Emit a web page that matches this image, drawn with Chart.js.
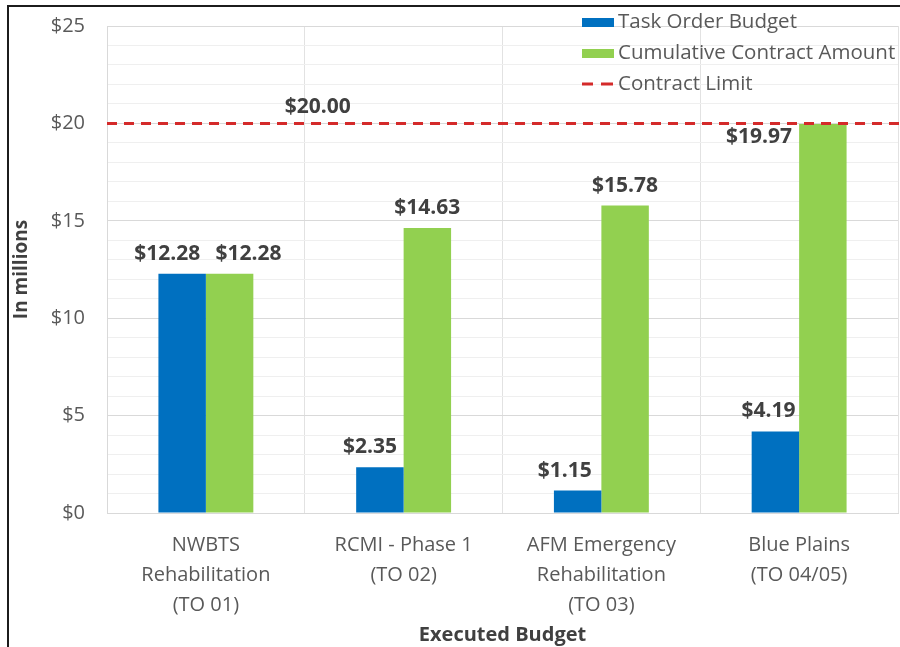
<!DOCTYPE html>
<html>
<head>
<meta charset="utf-8">
<script src="https://cdn.jsdelivr.net/npm/chart.js@4.4.1/dist/chart.umd.min.js"></script>
<style>
  html, body { margin: 0; padding: 0; background: #fff; }
  #wrap { position: relative; width: 900px; height: 647px; overflow: hidden; }
  #frame { position: absolute; left: 7px; top: 5px; width: 1000px; height: 800px;
           border-left: 2px solid #1c1c1c; border-top: 2px solid #1c1c1c; z-index: 0; }
  canvas { position: absolute; left: 0; top: 0; z-index: 1; }
</style>
</head>
<body>
<div id="wrap">
  <div id="frame"></div>
  <canvas id="c" width="900" height="647"></canvas>
</div>
<script>
// ---- data ----
const categories = [
  ['NWBTS', 'Rehabilitation', '(TO 01)'],
  ['RCMI - Phase 1', '(TO 02)'],
  ['AFM Emergency', 'Rehabilitation', '(TO 03)'],
  ['Blue Plains', '(TO 04/05)']
];
const taskOrderBudget = [12.28, 2.35, 1.15, 4.19];
const cumulativeContract = [12.28, 14.63, 15.78, 19.97];
const contractLimit = 20;
const seriesNames = ['Task Order Budget', 'Cumulative Contract Amount', 'Contract Limit'];
const yMin = 0, yMax = 25, yMajorStep = 5;

const FONT = "'Open Sans', 'Liberation Sans', sans-serif";
const BLUE = '#0070C0', GREEN = '#92D050', RED = '#D42A2A';
const LABEL_COLOR = '#404040', TICK_COLOR = '#595959';

const fmt = v => '$' + v.toFixed(2);

// value labels plugin
const valueLabels = {
  id: 'valueLabels',
  afterDatasetsDraw(chart, args, opts) {
    const ctx = chart.ctx;
    ctx.save();
    ctx.font = 'bold 21px ' + FONT;
    ctx.fillStyle = LABEL_COLOR;
    ctx.textBaseline = 'middle';
    chart.data.datasets.forEach((ds, di) => {
      const meta = chart.getDatasetMeta(di);
      meta.data.forEach((bar, i) => {
        const v = ds.data[i];
        const side = opts.side[di][i];
        if (side === 'left') {
          ctx.textAlign = 'right';
          ctx.fillText(fmt(v), bar.x - bar.width / 2 - 7, bar.y + 13);
        } else {
          ctx.textAlign = 'center';
          ctx.fillText(fmt(v), bar.x + opts.dx[di][i], bar.y - 20);
        }
      });
    });
    ctx.restore();
  }
};

// contract limit line + label
const limitLine = {
  id: 'limitLine',
  afterDatasetsDraw(chart) {
    const ctx = chart.ctx, ys = chart.scales.y, xs = chart.scales.x;
    const y = ys.getPixelForValue(contractLimit);
    ctx.save();
    ctx.strokeStyle = RED;
    ctx.lineWidth = 3;
    ctx.setLineDash([10, 7]);
    ctx.beginPath();
    ctx.moveTo(chart.chartArea.left, y);
    ctx.lineTo(chart.width, y);
    ctx.stroke();
    ctx.setLineDash([]);
    ctx.font = 'bold 21px ' + FONT;
    ctx.fillStyle = LABEL_COLOR;
    ctx.textAlign = 'center';
    ctx.textBaseline = 'middle';
    const xl = (xs.getPixelForValue(0) + xs.getPixelForValue(1)) / 2 + 13;
    ctx.fillText(fmt(contractLimit), xl, y - 16);
    ctx.restore();
  }
};

// in-plot legend
const plotLegend = {
  id: 'plotLegend',
  afterDraw(chart) {
    const ctx = chart.ctx;
    const x0 = 582, tx = 618;
    const rows = [28, 59, 90];
    ctx.save();
    ctx.font = '20.5px ' + FONT;
    ctx.textAlign = 'left';
    ctx.textBaseline = 'alphabetic';
    ctx.fillStyle = BLUE;
    ctx.fillRect(x0, rows[0] - 10, 32, 9);
    ctx.fillStyle = GREEN;
    ctx.fillRect(x0, rows[1] - 10, 32, 9);
    ctx.strokeStyle = RED;
    ctx.lineWidth = 3;
    ctx.beginPath();
    ctx.moveTo(x0, rows[2] - 6); ctx.lineTo(x0 + 11, rows[2] - 6);
    ctx.moveTo(x0 + 19, rows[2] - 6); ctx.lineTo(x0 + 31, rows[2] - 6);
    ctx.stroke();
    ctx.fillStyle = TICK_COLOR;
    seriesNames.forEach((n, i) => ctx.fillText(n, tx, rows[i]));
    ctx.restore();
  }
};

new Chart(document.getElementById('c'), {
  type: 'bar',
  data: {
    labels: categories,
    datasets: [
      { label: seriesNames[0], data: taskOrderBudget, backgroundColor: BLUE,
        categoryPercentage: 0.48, barPercentage: 1.0 },
      { label: seriesNames[1], data: cumulativeContract, backgroundColor: GREEN,
        categoryPercentage: 0.48, barPercentage: 1.0 }
    ]
  },
  plugins: [valueLabels, limitLine, plotLegend],
  options: {
    responsive: false,
    animation: false,
    layout: { padding: { top: 26, right: 2, left: 0, bottom: 0 } },
    plugins: {
      legend: { display: false },
      tooltip: { enabled: false },
      valueLabels: {
        dx: [[-15, -10, -13, -7], [19, 0, 0, 0]],
        side: [['top', 'top', 'top', 'top'], ['top', 'top', 'top', 'left']]
      }
    },
    scales: {
      x: {
        afterFit: s => { s.height = 134; s.paddingLeft = 0; s.paddingRight = 0; },
        grid: { offset: true, color: '#e2e2e2', drawTicks: false },
        border: { color: '#d9d9d9' },
        ticks: { color: TICK_COLOR, font: { family: FONT, size: 20, lineHeight: 1.5 },
                 padding: 17, maxRotation: 0, autoSkip: false },
        title: { display: true, text: 'Executed Budget', color: LABEL_COLOR,
                 font: { family: FONT, size: 20, weight: 'bold', lineHeight: 1.2 },
                 padding: { top: 0, bottom: 0 } }
      },
      y: {
        min: yMin, max: yMax,
        afterFit: s => { s.width = 107; s.paddingTop = 0; s.paddingBottom = 0; },
        grid: { drawTicks: false,
                color: c => (c.tick && c.tick.value % yMajorStep === 0) ? '#d9d9d9' : '#efefef' },
        border: { color: '#d9d9d9' },
        ticks: { stepSize: 1, autoSkip: false, padding: 22, color: TICK_COLOR,
                 font: { family: FONT, size: 20 },
                 callback: v => (v % yMajorStep === 0 ? '$' + v : '') },
        title: { display: true, text: 'In millions', color: LABEL_COLOR,
                 font: { family: FONT, size: 19, weight: 'bold', lineHeight: 1.2 },
                 padding: { top: 10, bottom: 0 } }
      }
    }
  }
});
</script>
</body>
</html>
